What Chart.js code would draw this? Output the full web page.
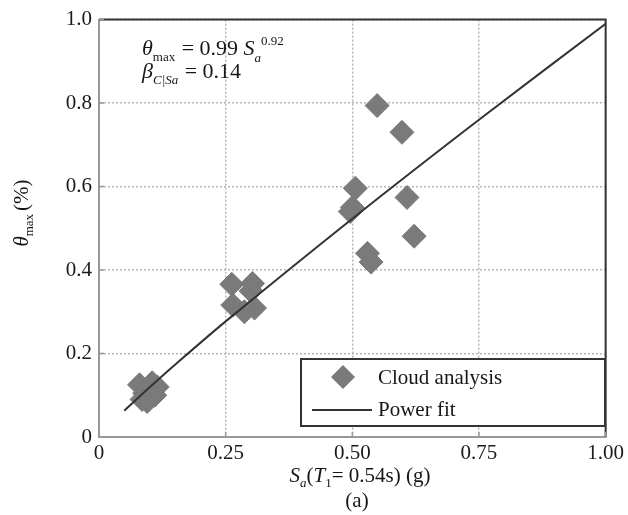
<!DOCTYPE html>
<html>
<head>
<meta charset="utf-8">
<script src="https://cdn.jsdelivr.net/npm/chart.js"></script>
<style>
  html, body { margin: 0; padding: 0; background: #fff; }
  #wrap { width: 628px; height: 515px; }
</style>
</head>
<body>
<div id="wrap"><canvas id="cloudChart"></canvas></div>
<script>
// Cloud analysis points (Sa in g, theta_max in %)
const cloudSa = [0.080, 0.105, 0.115, 0.090, 0.100, 0.085, 0.110, 0.095,
                 0.262, 0.303, 0.264, 0.307, 0.287, 0.300,
                 0.549, 0.598, 0.506, 0.500, 0.496, 0.608, 0.622, 0.530, 0.537];
const cloudTheta = [0.125, 0.130, 0.120, 0.105, 0.110, 0.090, 0.100, 0.085,
                    0.366, 0.368, 0.316, 0.309, 0.300, 0.350,
                    0.794, 0.730, 0.596, 0.550, 0.540, 0.574, 0.481, 0.440, 0.419];

// Power fit curve
const fitSa = [0.05, 0.10, 0.15, 0.25, 0.50, 0.75, 1.00];
const fitTheta = [0.063, 0.119, 0.173, 0.277, 0.523, 0.760, 0.990];

const xTicks = [0, 0.25, 0.5, 0.75, 1.0];
const yTicks = [0, 0.2, 0.4, 0.6, 0.8, 1.0];

const SERIF = '"Liberation Serif", "DejaVu Serif", serif';
const DIAMOND = '#7a7a7a';

function toPoints(xs, ys) {
    return xs.map((x, i) => ({ x: x, y: ys[i] }));
}

// draw a list of text pieces one after another (sub/superscripts by dy)
function drawRuns(ctx, runs, x, y, align) {
    let total = 0;
    runs.forEach(r => { ctx.font = r.font; total += ctx.measureText(r.t).width + (r.gap || 0); });
    let cx = align === 'center' ? x - total / 2 : x;
    ctx.textBaseline = 'alphabetic';
    ctx.textAlign = 'left';
    runs.forEach(r => {
        ctx.font = r.font;
        ctx.fillText(r.t, cx, y + (r.dy || 0));
        cx += ctx.measureText(r.t).width + (r.gap || 0);
    });
}

const decorations = {
    id: 'decorations',
    afterDraw(chart) {
        const ctx = chart.ctx;
        const area = chart.chartArea;
        const xs = chart.scales.x, ys = chart.scales.y;
        ctx.save();

        // top and right box lines
        ctx.strokeStyle = '#333';
        ctx.lineWidth = 2;
        ctx.beginPath();
        ctx.moveTo(area.left, area.top);
        ctx.lineTo(area.right, area.top);
        ctx.lineTo(area.right, area.bottom);
        ctx.stroke();

        // small inward ticks
        ctx.strokeStyle = '#999';
        ctx.lineWidth = 1.5;
        ctx.beginPath();
        yTicks.forEach(v => {
            const py = ys.getPixelForValue(v);
            ctx.moveTo(area.left, py);
            ctx.lineTo(area.left + 5, py);
        });
        xTicks.forEach(v => {
            const px = xs.getPixelForValue(v);
            ctx.moveTo(px, area.bottom);
            ctx.lineTo(px, area.bottom - 5);
        });
        ctx.stroke();

        ctx.fillStyle = '#161616';

        // equation text
        drawRuns(ctx, [
            { t: 'θ', font: 'italic 22px ' + SERIF },
            { t: 'max', font: '13px ' + SERIF, dy: 6, gap: 1 },
            { t: ' = 0.99 ', font: '22px ' + SERIF },
            { t: 'S', font: 'italic 22px ' + SERIF },
            { t: 'a', font: 'italic 13px ' + SERIF, dy: 7 },
            { t: '0.92', font: '13px ' + SERIF, dy: -10 }
        ], 142, 55, 'left');
        drawRuns(ctx, [
            { t: 'β', font: 'italic 22px ' + SERIF },
            { t: 'C|Sa', font: 'italic 13px ' + SERIF, dy: 6, gap: 1 },
            { t: ' = 0.14', font: '22px ' + SERIF }
        ], 142, 78, 'left');

        // x axis title and panel label
        drawRuns(ctx, [
            { t: 'S', font: 'italic 21px ' + SERIF },
            { t: 'a', font: 'italic 13px ' + SERIF, dy: 5 },
            { t: '(', font: '21px ' + SERIF },
            { t: 'T', font: 'italic 21px ' + SERIF },
            { t: '1', font: '13px ' + SERIF, dy: 5 },
            { t: '= 0.54s) (g)', font: '21px ' + SERIF }
        ], 360, 482, 'center');
        drawRuns(ctx, [{ t: '(a)', font: '21px ' + SERIF }], 357, 507, 'center');

        // y axis title, rotated
        ctx.save();
        ctx.translate(28, 213);
        ctx.rotate(-Math.PI / 2);
        drawRuns(ctx, [
            { t: 'θ', font: 'italic 21px ' + SERIF },
            { t: 'max', font: '13px ' + SERIF, dy: 5, gap: 3 },
            { t: '(%)', font: '21px ' + SERIF }
        ], 0, 0, 'center');
        ctx.restore();

        // legend box
        const lx = 301, ly = 359, lw = 304, lh = 67;
        ctx.fillStyle = '#fff';
        ctx.fillRect(lx, ly, lw, lh);
        ctx.strokeStyle = '#333';
        ctx.lineWidth = 2;
        ctx.strokeRect(lx, ly, lw, lh);

        ctx.fillStyle = DIAMOND;
        ctx.beginPath();
        ctx.moveTo(343, 377 - 12);
        ctx.lineTo(343 + 12, 377);
        ctx.lineTo(343, 377 + 12);
        ctx.lineTo(343 - 12, 377);
        ctx.closePath();
        ctx.fill();

        ctx.strokeStyle = '#333';
        ctx.lineWidth = 2;
        ctx.beginPath();
        ctx.moveTo(312, 410);
        ctx.lineTo(372, 410);
        ctx.stroke();

        ctx.fillStyle = '#161616';
        ctx.font = '21px ' + SERIF;
        ctx.textAlign = 'left';
        ctx.textBaseline = 'middle';
        ctx.fillText('Cloud analysis', 378, 378);
        ctx.fillText('Power fit', 378, 410);

        ctx.restore();
    }
};

const ctx = document.getElementById('cloudChart').getContext('2d');

new Chart(ctx, {
    type: 'scatter',
    data: {
        datasets: [
            {
                label: 'Power fit',
                type: 'line',
                data: toPoints(fitSa, fitTheta),
                borderColor: '#333',
                borderWidth: 2,
                pointRadius: 0,
                tension: 0.3,
                fill: false,
                order: 0
            },
            {
                label: 'Cloud analysis',
                data: toPoints(cloudSa, cloudTheta),
                pointStyle: 'rectRot',
                pointRadius: 12,
                backgroundColor: DIAMOND,
                borderColor: DIAMOND,
                borderWidth: 1,
                order: 1
            }
        ]
    },
    options: {
        responsive: true,
        maintainAspectRatio: false,
        animation: false,
        layout: { padding: { top: 19, right: 21, left: 0, bottom: 0 } },
        plugins: {
            legend: { display: false },
            tooltip: { enabled: false }
        },
        scales: {
            x: {
                type: 'linear',
                min: 0,
                max: 1,
                afterBuildTicks: axis => { axis.ticks = xTicks.map(v => ({ value: v })); },
                afterFit: axis => { axis.height = 78; },
                ticks: {
                    padding: 4,
                    color: '#1a1a1a',
                    font: { family: SERIF, size: 21 },
                    callback: v => v === 0 ? '0' : v.toFixed(2)
                },
                grid: { color: '#b5b5b5', lineWidth: 1.5, drawTicks: false },
                border: { color: '#999', width: 2, dash: [2, 2] }
            },
            y: {
                type: 'linear',
                min: 0,
                max: 1,
                afterBuildTicks: axis => { axis.ticks = yTicks.map(v => ({ value: v })); },
                afterFit: axis => { axis.width = 99; },
                ticks: {
                    padding: 7,
                    color: '#1a1a1a',
                    font: { family: SERIF, size: 21 },
                    callback: v => v === 0 ? '0' : v.toFixed(1)
                },
                grid: { color: '#b5b5b5', lineWidth: 1.5, drawTicks: false },
                border: { color: '#999', width: 2, dash: [2, 2] }
            }
        }
    },
    plugins: [decorations]
});
</script>
</body>
</html>
